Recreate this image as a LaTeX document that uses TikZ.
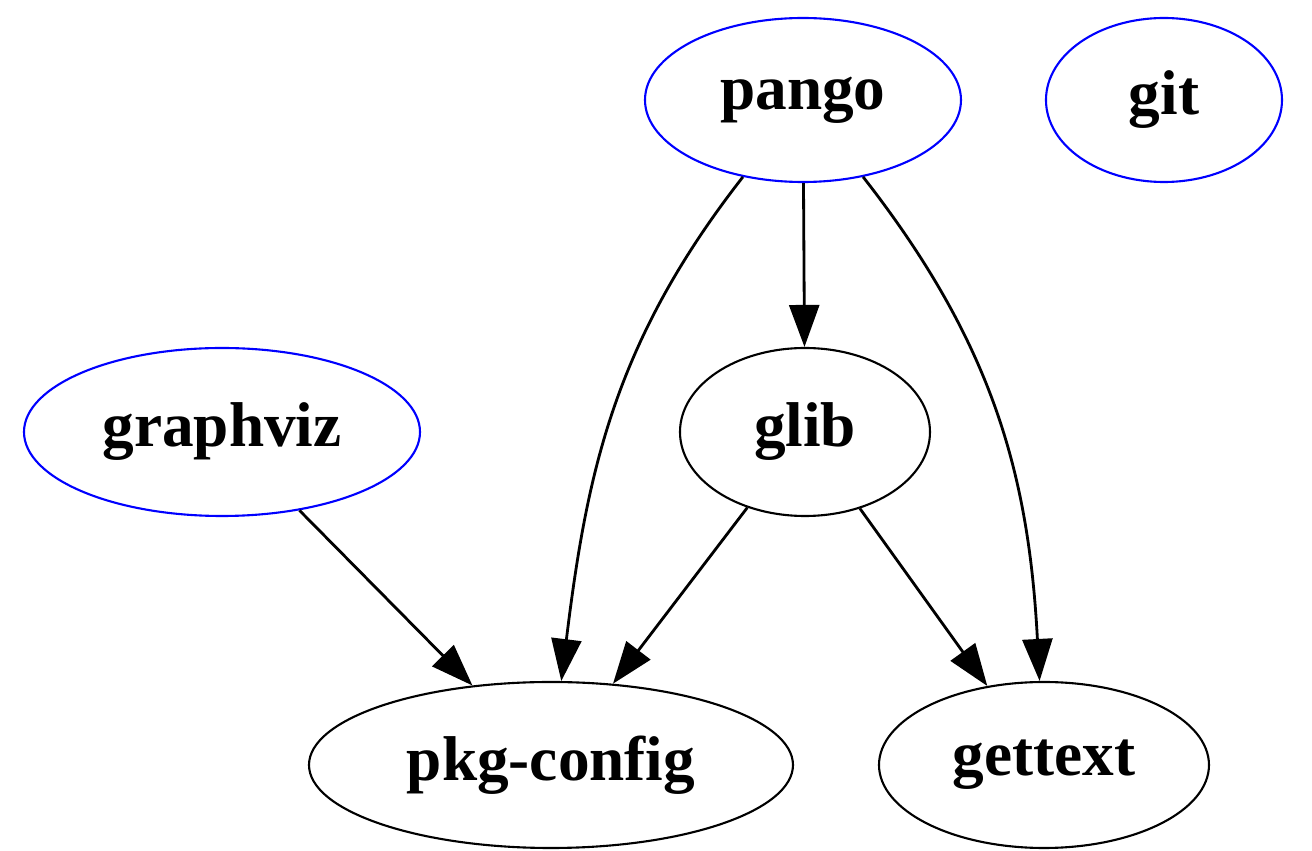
\documentclass[tikz,border=0pt]{standalone}
\usepackage{fontspec}
\setmainfont{Liberation Serif}
\usetikzlibrary{arrows.meta,shapes.geometric}
\tikzset{
    >={Triangle[length=0.42cm,width=0.3cm]},
    punkt/.style={
           ellipse,
           draw=black, line width=0.6pt,
           inner sep=0pt,
           font=\fontsize{18}{21}\selectfont\bfseries,
           text centered},
    blaa/.style={
           punkt,
           draw=blue},
    pil/.style={
           ->,
           line width=0.8pt}
}
\begin{document}
\begin{tikzpicture}
        \useasboundingbox (0,0) rectangle (13.12,8.51);
        \node[blaa, minimum width=3.16cm, minimum height=1.64cm] (pango) at (8.03,7.51) {pango};
        \node[blaa, minimum width=2.36cm, minimum height=1.64cm] (git) at (11.64,7.51) {git};
        \node[blaa, minimum width=3.96cm, minimum height=1.68cm] (graphviz) at (2.22,4.19) {graphviz};
        \node[punkt, minimum width=2.50cm, minimum height=1.68cm] (glib) at (8.05,4.19) {glib};
        \node[punkt, minimum width=4.84cm, minimum height=1.66cm] (pkg) at (5.51,0.86) {pkg-config};
        \node[punkt, minimum width=3.30cm, minimum height=1.66cm] (gettext) at (10.44,0.86) {gettext};
        \draw[pil] (pango) -- (glib);
        \draw[pil] (pango) to[out=-128, in=83] (pkg);
        \draw[pil] (pango) to[out=-52, in=93] (gettext);
        \draw[pil] (graphviz) -- (pkg);
        \draw[pil] (glib) -- (pkg);
        \draw[pil] (glib) -- (gettext);
\end{tikzpicture}
\end{document}
